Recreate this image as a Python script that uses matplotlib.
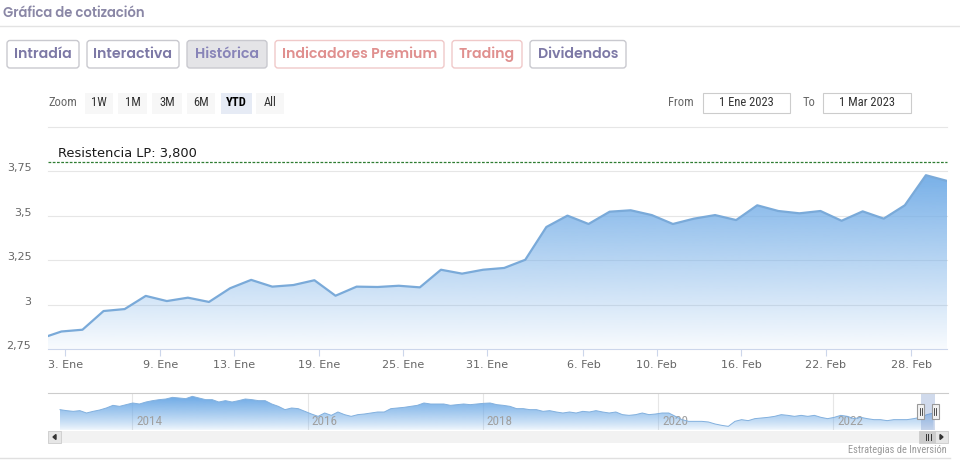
import numpy as np
import matplotlib
matplotlib.use('Agg')
import matplotlib.pyplot as plt
from matplotlib import font_manager as fm
from matplotlib.patches import FancyBboxPatch, Rectangle, Polygon
from matplotlib.transforms import ScaledTranslation

# ---------------- data ----------------
# daily closes, 2 Jan 2023 .. 1/2 Mar 2023 (trading days, ordinal axis)
prices = [2.81, 2.85, 2.86, 2.965, 2.976, 3.05, 3.021, 3.04, 3.016, 3.093,
          3.14, 3.102, 3.111, 3.138, 3.051, 3.102, 3.10, 3.107, 3.098, 3.197,
          3.175, 3.197, 3.207, 3.253, 3.437, 3.501, 3.454, 3.523, 3.531, 3.504,
          3.454, 3.484, 3.504, 3.476, 3.559, 3.527, 3.514, 3.527, 3.472, 3.525,
          3.484, 3.559, 3.728, 3.696]
x_tick_labels = ['3. Ene', '9. Ene', '13. Ene', '19. Ene', '25. Ene', '31. Ene',
                 '6. Feb', '10. Feb', '16. Feb', '22. Feb', '28. Feb']
x_tick_pos = [1.19, 5.70, 9.19, 13.23, 17.21, 21.2, 25.76, 29.24, 33.23, 37.24, 41.3]
y_ticks = [2.75, 3.0, 3.25, 3.5, 3.75]
y_tick_labels = ['2,75', '3', '3,25', '3,5', '3,75']
resistance = 3.80
resistance_label = 'Resistencia LP: 3,800'

# navigator (long history, 2013 .. Mar 2023)
nav_values = [4.35, 4.15, 4.01, 4.15, 3.68, 4.01, 4.28, 4.68, 5.21, 5.01, 5.35, 5.68,
              5.48, 5.88, 6.15, 6.35, 6.48, 6.81, 6.68, 6.55, 7.01, 6.68, 6.35, 6.35,
              5.88, 6.15, 5.88, 6.15, 6.48, 6.35, 6.15, 6.15, 5.48, 5.01, 4.35, 4.68,
              4.55, 4.01, 3.48, 3.01, 3.68, 3.21, 3.88, 3.35, 3.01, 3.35,
              3.48, 3.68, 3.88, 3.88, 4.55, 4.68, 4.81, 5.01, 5.21, 5.68, 5.48, 5.48,
              5.48, 5.21, 5.35, 5.48, 5.35, 5.48, 5.61, 5.68, 5.35, 5.21, 5.01, 4.55,
              4.55, 4.35, 4.35, 4.01, 4.15, 3.88, 3.68, 3.88, 3.68, 4.01, 3.88, 4.15,
              3.88, 3.68, 3.88, 3.35, 3.21, 3.35, 3.68, 3.35, 3.48, 3.68,
              3.68, 3.01, 2.35, 2.01, 2.01, 2.01, 1.88, 1.48, 1.21, 1.01, 2.01, 2.35,
              2.15, 2.55, 2.68, 2.81, 3.01, 3.35, 3.21, 3.01, 3.21, 3.01, 3.21, 2.81,
              2.55, 2.81, 3.21, 3.01, 2.55, 2.81, 2.55, 2.35, 2.35, 2.15, 2.35, 2.35,
              2.35, 2.55, 2.81, 3.35, 3.68]
nav_start, nav_end = 2013.175, 2023.144
nav_year_ticks = [2014, 2016, 2018, 2020, 2022]
sel_start, sel_end = 2023.0, 2023.164

tabs = ['Intradía', 'Interactiva', 'Histórica', 'Indicadores Premium', 'Trading', 'Dividendos']
zoom_buttons = ['1W', '1M', '3M', '6M', 'YTD', 'All']
date_from, date_to = '1 Ene 2023', '1 Mar 2023'

# ---------------- fonts ----------------
names = {f.name for f in fm.fontManager.ttflist}
def pick(*cands):
    for c in cands:
        if c in names:
            return c
    return 'DejaVu Sans'
COND = pick('Liberation Sans Narrow', 'Roboto Condensed', 'Open Sans Condensed', 'DejaVu Sans')
HEAD = pick('Poppins', 'Open Sans', 'Lato', 'DejaVu Sans')
cond_kw = dict(family=COND)
if COND == 'DejaVu Sans':
    cond_kw['stretch'] = 'condensed'

W, H = 960, 466
fig = plt.figure(figsize=(9.6, 4.66), dpi=100)
fig.patch.set_facecolor('white')

def fr(x0, y0, x1, y1):
    return [x0 / W, 1 - y1 / H, (x1 - x0) / W, (y1 - y0) / H]

# ---------------- main chart ----------------
ax = fig.add_axes(fr(48, 126.8, 947, 349.3))
ax.patch.set_visible(False)
x = np.arange(len(prices))
ybot = 2.75
for v in [3.0, 3.25, 3.5, 3.75, 4.0]:
    ax.axhline(v, color='#e6e6e6', lw=0.8, zorder=0, clip_on=False)

vmax = max(prices)
t = np.linspace(0, 1, 256)
rgba = np.zeros((256, 1, 4))
rgba[:, 0, 0] = 120 / 255
rgba[:, 0, 1] = 176 / 255
rgba[:, 0, 2] = 232 / 255
rgba[:, 0, 3] = 0.05 + 0.95 * t
im = ax.imshow(rgba, extent=[x[0], x[-1], ybot, vmax], origin='lower',
               aspect='auto', zorder=1, interpolation='bilinear')
poly = ax.fill_between(x, prices, ybot, facecolor='none', edgecolor='none')
im.set_clip_path(poly.get_paths()[0], ax.transData)
ax.plot(x, prices, color='#7aaad9', lw=1.6, zorder=3, solid_joinstyle='round')

ax.axhline(resistance, color='#2f7d32', lw=0.9, ls=(0, (2.2, 1.2)), zorder=4, clip_on=False)
ax.annotate(resistance_label, xy=(0, resistance), xycoords=('axes fraction', 'data'),
            xytext=(7.5, 1.5), textcoords='offset points', fontsize=9.4, color='#1a1a1a',
            va='bottom', ha='left')

ax.set_xlim(0.365, len(prices) - 1)
ax.set_ylim(ybot, 4.0)
for s in ['top', 'right', 'left']:
    ax.spines[s].set_visible(False)
ax.spines['bottom'].set_color('#ccd6eb')
ax.spines['bottom'].set_linewidth(0.8)
ax.set_xticks(x_tick_pos, x_tick_labels)
ax.tick_params(axis='x', length=5, width=0.8, color='#ccd6eb', labelsize=8,
               labelcolor='#666666', pad=3)
ax.set_yticks(y_ticks, y_tick_labels)
ax.tick_params(axis='y', length=0, pad=12, labelsize=8, labelcolor='#666666')
off = ScaledTranslation(0, 4 / 100, fig.dpi_scale_trans)
for lab in ax.get_yticklabels():
    lab.set_transform(lab.get_transform() + off)

# ---------------- navigator ----------------
nav = fig.add_axes(fr(48, 393, 948, 430))
nav.patch.set_visible(False)
nav.axis('off')
nav_lo, nav_hi = 0.28, 7.68
nx = np.linspace(nav_start, nav_end, len(nav_values))
for yr in nav_year_ticks:
    nav.axvline(yr, color='#e6e6e6', lw=0.8, zorder=0)
    nav.annotate(str(yr), xy=(yr, 0.22), xycoords=('data', 'axes fraction'),
                 xytext=(3, 0), textcoords='offset points', va='center', ha='left',
                 fontsize=9.5, color='#a0a0a0', **cond_kw)
nmax = max(nav_values)
rgba2 = np.zeros((256, 1, 4))
rgba2[:, 0, 0] = 110 / 255
rgba2[:, 0, 1] = 170 / 255
rgba2[:, 0, 2] = 230 / 255
rgba2[:, 0, 3] = 0.08 + 0.92 * t ** 0.8
im2 = nav.imshow(rgba2, extent=[nx[0], nx[-1], nav_lo, nmax], origin='lower',
                 aspect='auto', zorder=1, interpolation='bilinear')
poly2 = nav.fill_between(nx, nav_values, nav_lo, facecolor='none', edgecolor='none')
im2.set_clip_path(poly2.get_paths()[0], nav.transData)
nav.plot(nx, nav_values, color='#82b0de', lw=0.7, zorder=3)
nav.axvspan(sel_start, sel_end, color=(102 / 255, 133 / 255, 194 / 255, 0.3), zorder=5, lw=0)
nav.set_xlim(2013.038, 2023.31)
nav.set_ylim(nav_lo, nav_hi)

# ---------------- UI overlay ----------------
ui = fig.add_axes([0, 0, 1, 1], zorder=10)
ui.patch.set_visible(False)
ui.set_xlim(0, W)
ui.set_ylim(H, 0)
ui.axis('off')

ui.text(3, 13.5, 'Gráfica de cotización', fontsize=9.5, color='#8a87a6',
        weight='semibold', family=HEAD, va='center', ha='left')
ui.plot([0, W], [26, 26], color='#e3e3e3', lw=1)

tab_x = [(7, 79), (87, 179), (187, 267), (275, 444), (452, 522), (530, 626)]
for (x0, x1), name in zip(tab_x, tabs):
    pink = name in ('Indicadores Premium', 'Trading')
    active = name == 'Histórica'
    face = '#e4e4e7' if active else 'white'
    edge = '#f0c9c9' if pink else '#c9c9cf'
    tc = '#e0908f' if pink else ('#8884b8' if active else '#7d79a6')
    ui.add_patch(FancyBboxPatch((x0, 40.5), x1 - x0, 27.5,
                                boxstyle='round,pad=0,rounding_size=3',
                                facecolor=face, edgecolor=edge, lw=1))
    ui.text((x0 + x1) / 2, 54.5, name, fontsize=10.2, color=tc, weight='semibold',
            family=HEAD, ha='center', va='center')

ui.text(48, 103, 'Zoom', fontsize=9, color='#666666', va='center', ha='left', **cond_kw)
zb_x = [(85, 113), (118, 147), (152, 182), (187, 215), (221, 252), (256, 284)]
for (x0, x1), name in zip(zb_x, zoom_buttons):
    sel = name == 'YTD'
    ui.add_patch(Rectangle((x0, 92.5), x1 - x0, 21, facecolor='#e6ebf5' if sel else '#f7f7f7',
                           edgecolor='none'))
    ui.text((x0 + x1) / 2, 103, name, fontsize=9, color='#000000' if sel else '#333333',
            weight='bold' if sel else 'normal', ha='center', va='center', **cond_kw)

ui.text(668, 103, 'From', fontsize=9, color='#666666', va='center', ha='left', **cond_kw)
ui.text(803, 103, 'To', fontsize=9, color='#666666', va='center', ha='left', **cond_kw)
for (x0, x1), txt in zip([(703, 790), (823, 911)], [date_from, date_to]):
    ui.add_patch(Rectangle((x0, 93), x1 - x0, 20, facecolor='white', edgecolor='#cccccc', lw=0.8))
    ui.text((x0 + x1) / 2, 103, txt, fontsize=9, color='#333333', ha='center', va='center', **cond_kw)

# navigator outline, handles and scrollbar
ui.plot([48, 948], [393, 393], color='#cccccc', lw=0.8)
px0 = nav.transData.transform((sel_start, 1))[0]
px1 = nav.transData.transform((sel_end, 1))[0]
for px in (px0, px1):
    ui.add_patch(Rectangle((px - 3.5, 404), 7, 15, facecolor='#f2f2f2', edgecolor='#999999', lw=0.8))
    for dx in (-1.2, 1.2):
        ui.plot([px + dx, px + dx], [408, 415], color='#333333', lw=0.6)

ui.add_patch(Rectangle((48, 431), 900, 12, facecolor='#f2f2f2', edgecolor='none'))
ui.add_patch(Rectangle((48, 431), 13, 12, facecolor='#e6e6e6', edgecolor='#cccccc', lw=0.6))
ui.add_patch(Rectangle((935, 431), 13, 12, facecolor='#e6e6e6', edgecolor='#cccccc', lw=0.6))
ui.add_patch(Polygon([[53, 437], [56, 434.5], [56, 439.5]], closed=True, color='#333333'))
ui.add_patch(Polygon([[943, 437], [940, 434.5], [940, 439.5]], closed=True, color='#333333'))
ui.add_patch(Rectangle((px0 - 2, 431), px1 - px0 + 2, 12, facecolor='#cccccc', edgecolor='#cccccc', lw=0.6))
cm = (px0 + px1) / 2
for dx in (-2.5, 0, 2.5):
    ui.plot([cm + dx, cm + dx], [434, 440], color='#333333', lw=0.7)

ui.text(947, 450, 'Estrategias de Inversión', fontsize=7.5, color='#999999',
        ha='right', va='center', **cond_kw)
ui.plot([0, 950], [458, 458], color='#e0e0e0', lw=1)

fig.savefig('out.png', dpi=100, facecolor='white')
